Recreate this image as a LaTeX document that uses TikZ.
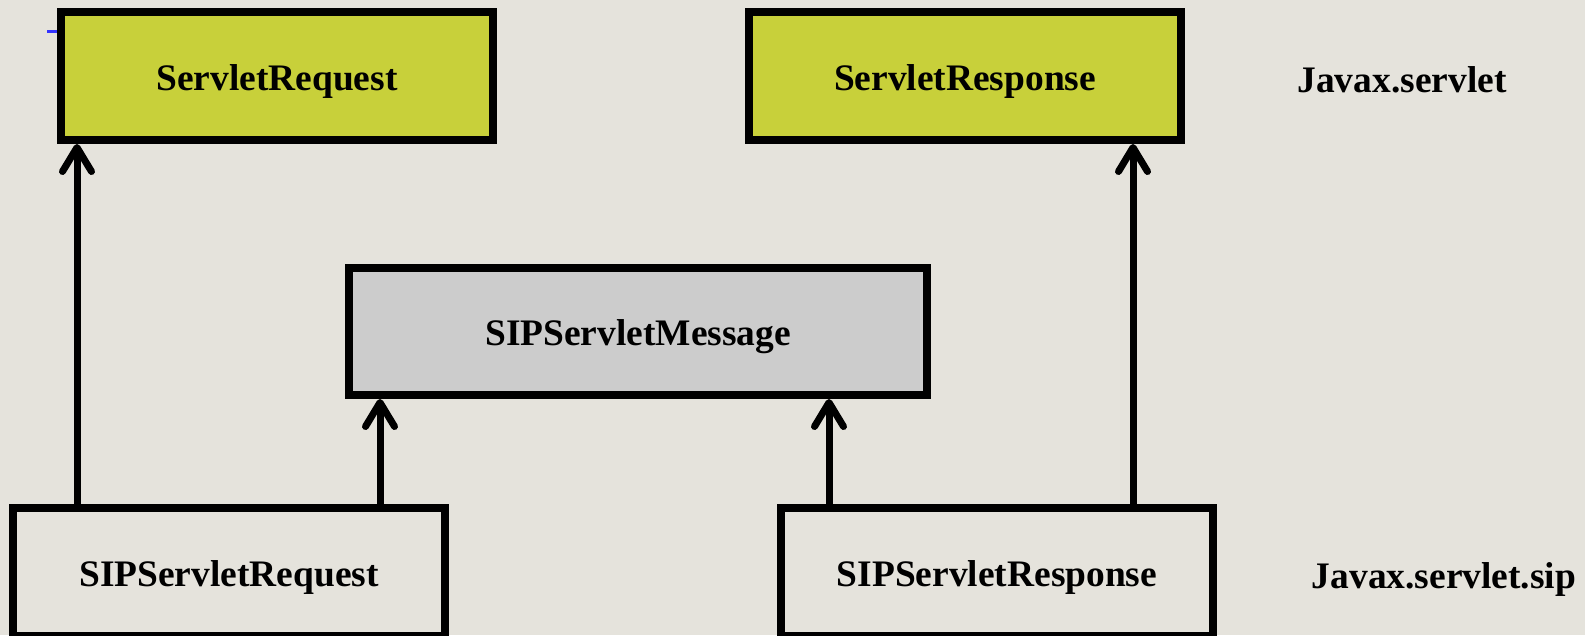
\documentclass[tikz,border=0pt]{standalone}
\usepackage{fontspec}
\setmainfont{Liberation Serif}
\usetikzlibrary{arrows.meta}

\definecolor{bgcol}{HTML}{E5E3DC}
\definecolor{pkgyellow}{HTML}{C8D03A}
\definecolor{msggrey}{HTML}{CCCCCC}

\tikzset{
  cls/.style={draw=black, line width=0.16cm, minimum width=8.64cm,
    minimum height=2.56cm, font=\fontsize{21.3}{25}\selectfont\bfseries,
    text height=0.56cm, text depth=0cm},
  pkg/.style={font=\fontsize{21.3}{25}\selectfont\bfseries,
    text height=0.56cm, text depth=0cm},
  inh/.style={line width=0.14cm,
    -{Straight Barb[length=0.48cm,width=0.58cm,round]}}
}

\begin{document}
\begin{tikzpicture}
      \useasboundingbox (0,0) rectangle (31.7,-12.7);
      \fill[bgcol] (0,0) rectangle (31.7,-12.7);

      % javax.servlet
      \node[cls, fill=pkgyellow] (sreq) at (5.54,-1.52) {ServletRequest};
      \node[cls, fill=pkgyellow] (sresp) at (19.3,-1.52) {ServletResponse};
      % javax.servlet.sip
      \node[cls, fill=msggrey, minimum width=11.56cm, minimum height=2.54cm]
            (msg) at (12.76,-6.63) {SIPServletMessage};
      \node[cls, fill=bgcol] (sipreq) at (4.58,-11.44) {SIPServletRequest};
      \node[cls, fill=bgcol] (sipresp) at (19.94,-11.44) {SIPServletResponse};

      \node[pkg] (javax) at (28.04,-1.56) {Javax.servlet};
      \node[pkg] (javaxsip) at (28.88,-11.48) {Javax.servlet.sip};

      \draw[inh] ([xshift=1.36cm]sipreq.north west) coordinate (a1)
            -- (a1 |- sreq.south);
      \draw[inh] ([xshift=-1.38cm]sipreq.north east) coordinate (a2)
            -- (a2 |- msg.south);
      \draw[inh] ([xshift=1.04cm]sipresp.north west) coordinate (a3)
            -- (a3 |- msg.south);
      \draw[inh] ([xshift=-1.68cm]sipresp.north east) coordinate (a4)
            -- (a4 |- sresp.south);

      \draw[color=blue!80, line width=0.06cm]
            ([yshift=-0.47cm]sreq.north west) -- ++(-0.2,0);
\end{tikzpicture}
\end{document}
